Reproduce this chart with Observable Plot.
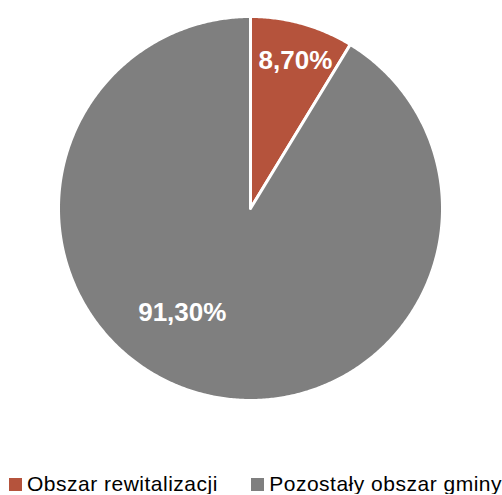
<!DOCTYPE html>
<html>
<head>
<meta charset="utf-8">
<script src="https://cdn.jsdelivr.net/npm/d3@7"></script>
<script src="https://cdn.jsdelivr.net/npm/@observablehq/plot@0.6"></script>
<style>
  html, body { margin: 0; padding: 0; background: #fff; overflow: hidden; }
  #chart svg { display: block; }
  .legend { display: flex; margin-top: 3px; padding-left: 9px; font-family: "Liberation Sans", Arial, sans-serif; font-size: 21px; line-height: 21px; letter-spacing: 0.5px; color: #000; white-space: nowrap; }
  .legend .item { display: flex; align-items: flex-start; }
  .legend .item:first-child { width: 246px; }
  .legend .sw { width: 13px; height: 13px; margin-top: 5px; margin-right: 5px; flex: none; }
</style>
</head>
<body>
<div id="chart"></div>
<script>
const categories = ["Obszar rewitalizacji", "Pozostały obszar gminy"];
const shares = [8.70, 91.30];
const labels = ["8,70%", "91,30%"];
const colors = ["#B5533C", "#7F7F7F"];

const total = d3.sum(shares);
// build wedge outlines (data space: unit circle), clockwise from 12 o'clock
const wedgePts = [];
const labelPts = [];
let acc = 0;
shares.forEach((v, i) => {
  const a0 = acc / total * 2 * Math.PI;
  acc += v;
  const a1 = acc / total * 2 * Math.PI;
  wedgePts.push({cat: categories[i], x: 0, y: 0});
  const n = Math.max(2, Math.ceil((a1 - a0) / (Math.PI / 360)));
  for (let k = 0; k <= n; k++) {
    const a = a0 + (a1 - a0) * k / n;
    wedgePts.push({cat: categories[i], x: Math.sin(a), y: Math.cos(a)});
  }
  wedgePts.push({cat: categories[i], x: 0, y: 0});
  const mid = (a0 + a1) / 2;
  // label placement similar to spreadsheet "best fit"
  const la = i === 0 ? mid + 0.02 : mid + 0.31;
  const lr = i === 0 ? 0.81 : 0.645;
  labelPts.push({cat: categories[i], label: labels[i], x: lr * Math.sin(la), y: lr * Math.cos(la)});
});

const chart = Plot.plot({
  width: 502,
  height: 470,
  marginLeft: 58,
  marginRight: 60,
  marginTop: 16,
  marginBottom: 70,
  x: {domain: [-1, 1], axis: null},
  y: {domain: [-1, 1], axis: null},
  color: {domain: categories, range: colors},
  marks: [
    Plot.line(wedgePts, {x: "x", y: "y", z: "cat", fill: "cat", stroke: "white", strokeWidth: 3, strokeLinejoin: "round", curve: "linear"}),
    Plot.text(labelPts, {x: "x", y: "y", text: "label", fill: "white", fontSize: 26, fontWeight: "bold", fontFamily: "Liberation Sans, Arial, sans-serif", textAnchor: "middle", dy: 1})
  ]
});
document.getElementById("chart").appendChild(chart);

const scale = chart.scale("color");
const legend = document.createElement("div");
legend.className = "legend";
scale.domain.forEach((c, i) => {
  const item = document.createElement("div");
  item.className = "item";
  const sw = document.createElement("span");
  sw.className = "sw";
  sw.style.background = scale.range[i];
  const t = document.createElement("span");
  t.textContent = c;
  item.appendChild(sw);
  item.appendChild(t);
  legend.appendChild(item);
});
document.getElementById("chart").appendChild(legend);
</script>
</body>
</html>
